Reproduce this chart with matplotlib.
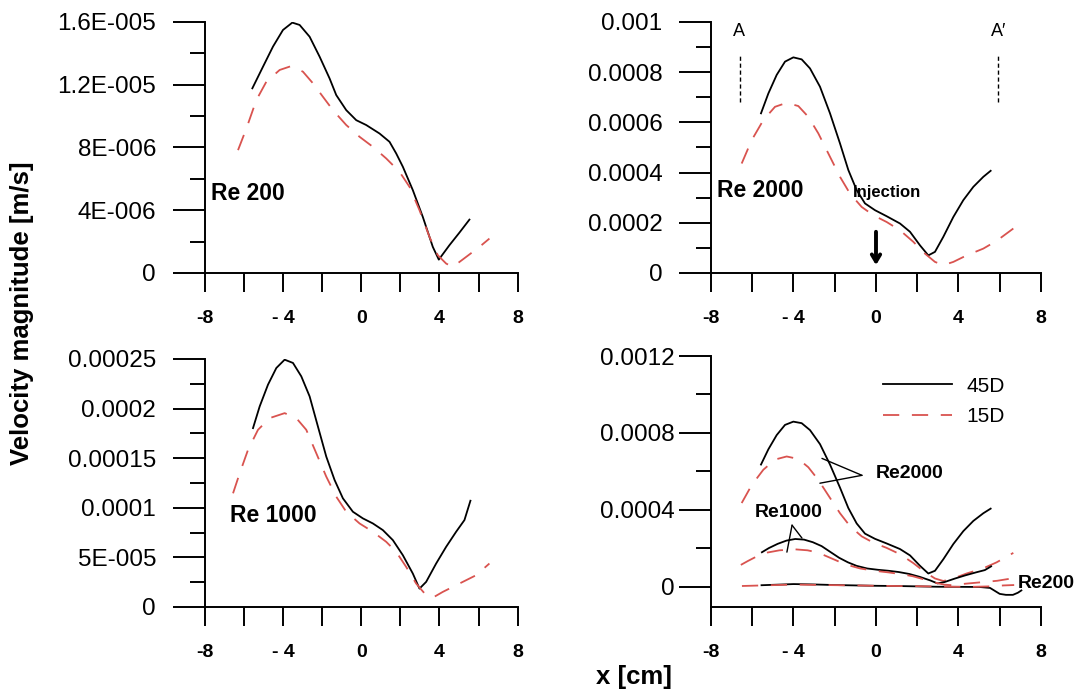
import numpy as np
import matplotlib
matplotlib.use("Agg")
import matplotlib.pyplot as plt

plt.rcParams['font.family'] = ['Liberation Sans', 'DejaVu Sans']

# x positions [cm] and velocity magnitudes [m/s]
# Re 200
re200_x45 = [-5.566, -5.021, -4.511, -4.0, -3.523, -3.149, -2.638, -2.128, -1.617, -1.277, -0.766, -0.255, 0.255, 0.936, 1.447, 1.787, 2.128, 2.638, 3.149, 3.66, 3.966, 4.51, 5.02, 5.532]
re200_y45 = [11.77e-6, 13.15e-6, 14.43e-6, 15.49e-6, 15.96e-6, 15.81e-6, 15.06e-6, 13.79e-6, 12.40e-6, 11.34e-6, 10.38e-6, 9.74e-6, 9.43e-6, 8.89e-6, 8.36e-6, 7.62e-6, 6.77e-6, 5.28e-6, 3.57e-6, 1.66e-6, 0.85e-6, 1.77e-6, 2.57e-6, 3.40e-6]
re200_x15 = [-6.298, -5.87, -5.362, -4.851, -4.17, -3.574, -2.979, -2.468, -1.957, -1.447, -0.766, -0.085, 0.596, 1.277, 1.957, 2.468, 2.979, 3.489, 3.915, 4.34, 4.68, 5.362, 6.043, 6.553]
re200_y15 = [7.83e-6, 9.21e-6, 11.02e-6, 12.19e-6, 12.94e-6, 13.19e-6, 12.83e-6, 12.09e-6, 11.23e-6, 10.38e-6, 9.43e-6, 8.68e-6, 8.04e-6, 7.30e-6, 6.45e-6, 5.49e-6, 4.0e-6, 2.30e-6, 1.13e-6, 0.6e-6, 0.38e-6, 1.02e-6, 1.66e-6, 2.19e-6]

# Re 1000
re1000_x45 = [-5.532, -5.191, -4.766, -4.34, -3.915, -3.489, -3.064, -2.638, -2.213, -1.787, -1.362, -0.936, -0.426, 0.085, 0.596, 1.106, 1.617, 2.128, 2.638, 2.979, 3.319, 3.83, 4.34, 4.851, 5.277, 5.583]
re1000_y45 = [18.03e-5, 20.22e-5, 22.41e-5, 24.09e-5, 24.93e-5, 24.6e-5, 23.25e-5, 21.23e-5, 18.19e-5, 15.16e-5, 12.80e-5, 10.95e-5, 9.60e-5, 8.93e-5, 8.42e-5, 7.75e-5, 6.74e-5, 5.22e-5, 3.37e-5, 1.85e-5, 2.53e-5, 4.38e-5, 6.06e-5, 7.58e-5, 8.76e-5, 10.71e-5]
re1000_x15 = [-6.553, -6.213, -5.787, -5.277, -4.681, -3.915, -3.319, -2.809, -2.298, -1.787, -1.277, -0.766, -0.085, 0.596, 1.277, 1.787, 2.298, 2.809, 3.319, 3.66, 4.17, 5.021, 5.872, 6.553]
re1000_y15 = [11.46e-5, 13.48e-5, 15.84e-5, 17.86e-5, 19.04e-5, 19.54e-5, 19.04e-5, 17.86e-5, 15.5e-5, 13.14e-5, 11.12e-5, 9.60e-5, 8.42e-5, 7.58e-5, 6.57e-5, 5.56e-5, 4.04e-5, 2.36e-5, 1.18e-5, 0.94e-5, 1.52e-5, 2.36e-5, 3.20e-5, 4.38e-5]

# Re 2000
re2000_x45 = [-5.576, -5.22, -4.816, -4.412, -4.008, -3.604, -3.2, -2.715, -2.23, -1.745, -1.341, -0.937, -0.533, -0.048, 0.517, 1.164, 1.649, 2.133, 2.537, 2.86, 3.265, 3.75, 4.234, 4.719, 5.204, 5.56]
re2000_y45 = [6.36e-4, 7.15e-4, 7.89e-4, 8.42e-4, 8.59e-4, 8.51e-4, 8.15e-4, 7.42e-4, 6.36e-4, 5.16e-4, 4.10e-4, 3.30e-4, 2.77e-4, 2.50e-4, 2.26e-4, 1.97e-4, 1.64e-4, 1.10e-4, 0.70e-4, 0.84e-4, 1.44e-4, 2.23e-4, 2.90e-4, 3.43e-4, 3.83e-4, 4.07e-4]
re2000_x15 = [-6.513, -6.028, -5.463, -4.897, -4.331, -3.766, -3.281, -2.796, -2.311, -1.745, -1.26, -0.695, -0.129, 0.517, 1.164, 1.81, 2.376, 2.86, 3.265, 3.75, 4.396, 5.204, 5.851, 6.659]
re2000_y15 = [4.36e-4, 5.29e-4, 6.09e-4, 6.62e-4, 6.78e-4, 6.65e-4, 6.22e-4, 5.56e-4, 4.76e-4, 3.83e-4, 3.16e-4, 2.63e-4, 2.30e-4, 2.03e-4, 1.70e-4, 1.24e-4, 0.77e-4, 0.44e-4, 0.31e-4, 0.44e-4, 0.70e-4, 0.97e-4, 1.28e-4, 1.77e-4]

# Re 200 as drawn in the combined panel
all200_x45 = [-5.55, -4.5, -4.0, -3.0, -2.0, -1.0, 0.0, 1.0, 2.0, 3.0, 4.0, 5.0, 5.53, 6.0, 6.3, 6.64, 6.88, 7.05]
all200_y45 = [0.9e-5, 1.3e-5, 1.5e-5, 1.3e-5, 1.0e-5, 0.8e-5, 0.6e-5, 0.5e-5, 0.3e-5, 0.1e-5, 0.05e-5, 0.0, -0.5e-5, -3.6e-5, -4.1e-5, -4.1e-5, -3.0e-5, -1.8e-5]
all200_x15 = [-6.5, -5.5, -4.5, -3.7, -2.5, -1.0, 0.0, 1.0, 2.0, 3.0, 4.0, 4.8, 5.5, 6.2, 6.7]
all200_y15 = [0.5e-5, 0.8e-5, 1.1e-5, 1.2e-5, 1.0e-5, 0.8e-5, 0.6e-5, 0.5e-5, 0.4e-5, 0.2e-5, 0.1e-5, 0.1e-5, 0.3e-5, 0.8e-5, 1.0e-5]

x_ticks = [-8, -4, 0, 4, 8]
x_labels = ["-8", "- 4", "0", "4", "8"]
x_minor = [-6, -2, 2, 6]

y1_ticks = [0, 4e-6, 8e-6, 1.2e-5, 1.6e-5]
y1_labels = ["0", "4E-006", "8E-006", "1.2E-005", "1.6E-005"]
y2_ticks = [0, 2e-4, 4e-4, 6e-4, 8e-4, 1e-3]
y2_labels = ["0", "0.0002", "0.0004", "0.0006", "0.0008", "0.001"]
y3_ticks = [0, 5e-5, 1e-4, 1.5e-4, 2e-4, 2.5e-4]
y3_labels = ["0", "5E-005", "0.0001", "0.00015", "0.0002", "0.00025"]
y4_ticks = [0, 4e-4, 8e-4, 1.2e-3]
y4_labels = ["0", "0.0004", "0.0008", "0.0012"]

RED = '#d9534f'
DASH = (0, (9, 7))

fig = plt.figure(figsize=(10.89, 6.91), dpi=100)
ax1 = fig.add_axes([0.188, 0.605, 0.2874, 0.3632])
ax2 = fig.add_axes([0.6529, 0.605, 0.303, 0.3632])
ax3 = fig.add_axes([0.188, 0.1216, 0.2874, 0.3589])
ax4 = fig.add_axes([0.6529, 0.1216, 0.303, 0.3632])


def style(ax, yticks, ylabels, yminor, ylim, ypad=12):
  ax.set_xlim(-8, 8)
  ax.set_ylim(*ylim)
  for s in ['top', 'right']:
    ax.spines[s].set_visible(False)
  for s in ['left', 'bottom']:
    ax.spines[s].set_linewidth(1.4)
  ax.set_xticks(x_ticks)
  ax.set_xticklabels(x_labels, fontsize=14, fontweight='bold')
  ax.set_xticks(x_minor, minor=True)
  ax.set_yticks(yticks)
  ax.set_yticklabels(ylabels, fontsize=17.5)
  ax.set_yticks(yminor, minor=True)
  ax.tick_params(axis='x', which='both', length=14, width=1.4, pad=13)
  ax.tick_params(axis='y', which='major', length=23, width=1.4, pad=ypad)
  ax.tick_params(axis='y', which='minor', length=11, width=1.4)


def curves(ax, x45, y45, x15, y15):
  ax.plot(x45, y45, color='black', lw=1.3)
  ax.plot(x15, y15, color=RED, lw=1.3, linestyle=DASH)


# Re 200
curves(ax1, re200_x45, re200_y45, re200_x15, re200_y15)
style(ax1, y1_ticks, y1_labels, [2e-6, 6e-6, 1e-5, 1.4e-5], (0, 1.6e-5))
ax1.text(-7.66, 5.06e-6, "Re 200", fontsize=16.5, fontweight='bold', va='center')

# Re 2000
curves(ax2, re2000_x45, re2000_y45, re2000_x15, re2000_y15)
style(ax2, y2_ticks, y2_labels, [1e-4, 3e-4, 5e-4, 7e-4, 9e-4], (0, 1e-3))
ax2.text(-7.73, 3.27e-4, "Re 2000", fontsize=16.5, fontweight='bold', va='center')
ax2.text(-1.13, 3.19e-4, "Injection", fontsize=12, fontweight='bold', va='center')
ax2.annotate('', xy=(0, 0.2e-4), xytext=(0, 1.75e-4),
             arrowprops=dict(arrowstyle='->, head_length=0.5, head_width=0.3', lw=2.8, color='black'))
ax2.vlines([-6.6, 5.9], 6.8e-4, 8.7e-4, colors='black', lw=1.0, linestyles=(0, (3, 2)))
ax2.text(-6.63, 9.61e-4, "A", fontsize=13, ha='center', va='center')
ax2.text(5.93, 9.61e-4, "A\u2032", fontsize=13, ha='center', va='center')

# Re 1000
curves(ax3, re1000_x45, re1000_y45, re1000_x15, re1000_y15)
style(ax3, y3_ticks, y3_labels, [2.5e-5, 7.5e-5, 1.25e-4, 1.75e-4, 2.25e-4], (0, 2.5e-4))
ax3.text(-6.72, 9.27e-5, "Re 1000", fontsize=16.5, fontweight='bold', va='center')

# all together
curves(ax4, re2000_x45, re2000_y45, re2000_x15, re2000_y15)
curves(ax4, re1000_x45, re1000_y45, re1000_x15, re1000_y15)
curves(ax4, all200_x45, all200_y45, all200_x15, all200_y15)
style(ax4, y4_ticks, y4_labels, [2e-4, 6e-4, 1e-3], (-1.04e-4, 1.2e-3), ypad=3)
for tgt in [(-2.62, 6.68e-4), (-2.72, 5.39e-4)]:
  ax4.annotate('', xy=tgt, xytext=(-0.68, 5.8e-4),
               arrowprops=dict(arrowstyle='-', lw=1.0, color='black', shrinkA=0, shrinkB=0))
ax4.text(0.0, 5.9e-4, "Re2000", fontsize=14, fontweight='bold', va='center')
for tgt in [(-4.32, 1.81e-4), (-3.59, 2.54e-4)]:
  ax4.annotate('', xy=tgt, xytext=(-4.07, 3.21e-4),
               arrowprops=dict(arrowstyle='-', lw=1.0, color='black', shrinkA=0, shrinkB=0))
ax4.text(-5.87, 3.89e-4, "Re1000", fontsize=14, fontweight='bold', va='center')
ax4.text(6.88, 0.2e-4, "Re200", fontsize=14, fontweight='bold', va='center', clip_on=False)

h = ax4.get_lines()
ax4.legend([h[0], h[1]], ["45D", "15D"], loc='upper left', bbox_to_anchor=(0.811, 0.455),
           bbox_transform=fig.transFigure, frameon=False, fontsize=15, borderpad=0,
           borderaxespad=0, handlelength=3.3, handletextpad=0.7, labelspacing=0.55)

fig.text(0.02, 0.547, "Velocity magnitude [m/s]", rotation=90, fontsize=18.5,
         fontweight='bold', ha='center', va='center')
fig.text(0.582, 0.02, "x [cm]", fontsize=18.5, fontweight='bold', ha='center', va='center')

fig.savefig("out.png", dpi=100)
